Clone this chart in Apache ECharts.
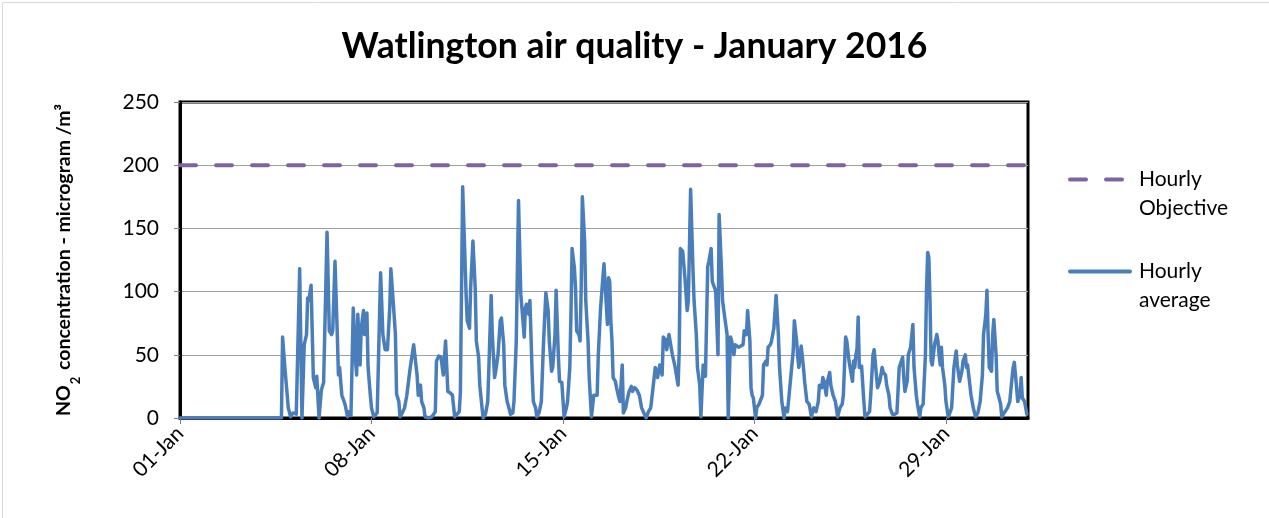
<!DOCTYPE html>
<html>
<head>
<meta charset="utf-8">
<script src="https://cdn.jsdelivr.net/npm/echarts@6/dist/echarts.min.js"></script>
<style>
html,body{margin:0;padding:0;background:#fff;}
#c{width:1269px;height:518px;}
</style>
</head>
<body>
<div id="c"></div>
<script>
// ---- data (hour of month since 01-Jan 00:00, NO2 value) ----
const hours = [0,89,90,92,95,97,99,102,105,107,109,111,112,113,115,117,119,120,122,124,126,129,131,133,134,136,138,139,140,142,144,145,147,148,150,152,154,155,156,158,159,161,162,164,165,167,168,170,173,176,178,180,182,184,185,187,189,190,192,193,195,197,199,202,205,208,209,211,212,214,215,218,221,224,225,227,229,231,233,235,237,239,241,243,245,246,248,251,252,254,255,257,259,260,262,263,265,266,268,270,271,273,274,276,277,279,281,282,284,285,287,288,290,292,293,295,297,299,300,302,303,304,306,307,309,310,312,313,315,317,319,321,323,324,326,327,329,330,332,333,335,337,339,340,342,343,344,346,347,348,350,351,352,353,355,356,358,359,360,361,363,366,367,369,371,372,375,376,377,378,379,380,382,383,385,386,388,389,391,392,394,396,397,399,401,403,405,407,409,411,413,416,417,419,421,423,424,426,427,429,430,432,434,435,437,438,439,441,443,445,446,448,450,451,453,454,456,457,459,460,461,463,464,466,467,469,470,472,473,475,476,478,480,481,483,484,486,487,490,492,494,495,497,498,500,501,502,503,505,506,508,509,511,512,514,515,516,518,519,521,523,525,526,528,530,531,533,535,538,539,541,542,543,545,547,548,550,552,554,556,558,560,561,563,564,565,567,568,570,571,573,575,577,579,581,582,584,585,587,590,591,592,593,594,595,596,598,600,601,603,605,606,608,609,611,612,614,616,617,619,620,622,623,625,627,629,631,634,635,636,638,639,641,643,644,646,647,649,650,652,654,655,656,657,658,659,660,662,664,665,666,667,668,669,671,672,674,675,677,679,681,682,684,686,687,689,690,691,693,694,696,698,700,702,704,705,707,708,709,710,712,713,714,716,717,718,720,721,723,726,728,730,731,732,734,735,737,738,739,741,742,743];
const hourlyAverage = [0,0,64,40,8,1,4,3,118,0,58,66,95,93,105,32,24,33,0,22,28,147,69,66,69,124,66,34,40,18,13,10,1,5,2,87,45,34,82,42,71,85,66,83,40,18,8,1,4,115,66,54,54,87,118,93,66,19,13,1,4,8,18,40,58,34,18,26,13,8,1,0,1,5,45,49,48,34,61,21,20,18,1,3,5,20,183,98,77,71,103,140,103,61,48,26,8,0,3,13,40,97,66,32,37,50,77,79,58,26,13,10,3,4,13,60,172,98,87,64,87,90,82,93,34,13,8,1,4,13,61,99,85,61,37,40,66,101,48,29,28,1,8,13,40,82,134,119,103,69,66,61,103,175,140,93,61,32,33,1,18,18,50,87,111,122,74,111,108,77,61,32,29,24,16,13,42,4,8,13,21,25,21,24,22,18,8,4,0,5,8,32,40,32,42,34,64,62,54,66,66,50,42,37,26,53,134,132,111,85,93,181,119,93,66,40,26,1,42,37,33,120,124,134,108,103,100,50,161,119,93,79,66,0,64,61,50,58,56,57,58,69,66,85,61,24,18,16,0,8,11,11,18,42,45,42,56,58,61,71,97,66,40,13,0,8,5,24,53,77,61,48,40,57,40,29,13,11,1,8,5,13,26,24,32,29,18,29,36,26,18,13,1,8,11,18,64,61,45,29,45,40,50,55,80,40,41,13,1,3,5,18,50,54,34,24,29,40,36,34,26,18,8,3,3,4,40,48,32,21,29,50,56,74,40,18,11,1,8,11,50,103,131,127,93,45,42,58,66,61,50,42,56,40,26,13,1,3,8,40,53,42,29,37,45,50,40,42,26,18,8,1,4,13,34,66,82,101,66,40,37,66,78,50,21,18,11,1,4,8,13,32,40,44,24,13,18,32,16,13,8,3];
const objectiveHours = [0, 744];
const objectiveValues = [200, 200];
const xTickHours = [0, 168, 336, 504, 672];
const xTickLabels = ['01-Jan', '08-Jan', '15-Jan', '22-Jan', '29-Jan'];
const yTicks = [0, 50, 100, 150, 200, 250];

const FONT = 'Lato';
const avgData = hours.map((h, i) => [h, hourlyAverage[i]]);
const objData = objectiveHours.map((h, i) => [h, objectiveValues[i]]);

const chart = echarts.init(document.getElementById('c'), null, {renderer: 'canvas'});
chart.setOption({
  animation: false,
  backgroundColor: '#fff',
  title: {
    text: 'Watlington air quality - January 2016',
    left: 'center',
    top: 24,
    textStyle: {fontFamily: FONT, fontWeight: 'bold', fontSize: 35.5, color: '#000'}
  },
  graphic: [{
    type: 'rect', left: 0, top: 0, silent: true,
    shape: {x: 0.5, y: 0.5, width: 1267, height: 516},
    style: {fill: 'none', stroke: '#d9d9d9', lineWidth: 1}
  }],
  legend: {
    orient: 'vertical',
    left: 1068,
    top: 136,
    padding: 0,
    itemWidth: 60,
    itemHeight: 14,
    itemGap: 5,
    itemStyle: {opacity: 0},
    lineStyle: {width: 4, cap: 'round'},
    formatter: n => '\n' + n.replace(' ', '\n'),
    textStyle: {fontFamily: FONT, fontSize: 21, color: '#000', lineHeight: 29, padding: [0, 0, 0, 4]},
    data: ['Hourly Objective', 'Hourly average']
  },
  grid: {left: 180, top: 102, right: 241, bottom: 100, show: true, borderColor: '#000', borderWidth: 3},
  xAxis: {
    type: 'value', min: 0, max: 744,
    axisLine: {onZero: false, lineStyle: {color: '#000', width: 3}},
    splitLine: {show: false},
    axisTick: {show: true, customValues: xTickHours, length: 6, lineStyle: {color: '#7f7f7f', width: 1}},
    axisLabel: {
      customValues: xTickHours, rotate: 45, margin: 12,
      fontFamily: FONT, fontSize: 21, color: '#000',
      formatter: v => { const i = xTickHours.indexOf(v); return i >= 0 ? xTickLabels[i] : ''; }
    }
  },
  yAxis: {
    type: 'value', min: 0, max: 250, interval: 50,
    name: '{b|NO}{s|2}{b| concentration - microgram /m³}',
    nameLocation: 'middle', nameGap: 104,
    nameTextStyle: {
      rich: {
        b: {fontFamily: FONT, fontWeight: 'bold', fontSize: 19.5, color: '#000', lineHeight: 24},
        s: {fontFamily: FONT, fontWeight: 'bold', fontSize: 13, color: '#000', lineHeight: 24, verticalAlign: 'bottom', padding: [0, 2, -6, 1]}
      }
    },
    axisLine: {show: true, lineStyle: {color: '#000', width: 3}},
    axisTick: {show: true, length: 6, lineStyle: {color: '#7f7f7f', width: 1}},
    splitLine: {show: true, lineStyle: {color: '#a0a0a0', width: 1}},
    axisLabel: {margin: 21, fontFamily: FONT, fontSize: 21, color: '#000',
      formatter: v => yTicks.indexOf(v) >= 0 ? String(v) : ''}
  },
  series: [
    {
      name: 'Hourly Objective', type: 'line', data: objData, symbol: 'none', z: 3,
      lineStyle: {color: '#8064a2', width: 4, type: [16, 20], cap: 'round'},
      itemStyle: {color: '#8064a2'}
    },
    {
      name: 'Hourly average', type: 'line', data: avgData, symbol: 'none', z: 4,
      lineStyle: {color: '#4a7ebb', width: 3.5, join: 'round', cap: 'round'},
      itemStyle: {color: '#4a7ebb'}
    }
  ]
});
</script>
</body>
</html>
